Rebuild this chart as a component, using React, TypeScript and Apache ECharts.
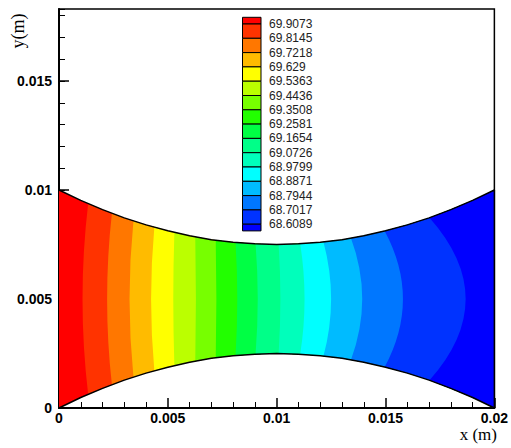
import React, { useEffect, useRef } from 'react';
import * as echarts from 'echarts';

// wall geometry (m)
const wallX = [0, 0.001, 0.002, 0.003, 0.004, 0.005, 0.006, 0.007, 0.008, 0.009, 0.01,
  0.011, 0.012, 0.013, 0.014, 0.015, 0.016, 0.017, 0.018, 0.019, 0.02];
const lowerWall = [0, 0.00048, 0.0009, 0.00128, 0.0016, 0.00187, 0.0021, 0.00228, 0.0024, 0.00247, 0.0025,
  0.00247, 0.0024, 0.00228, 0.0021, 0.00187, 0.0016, 0.00128, 0.0009, 0.00048, 0];
const upperWall = [0.01, 0.00952, 0.0091, 0.00872, 0.0084, 0.00813, 0.0079, 0.00772, 0.0076, 0.00753, 0.0075,
  0.00753, 0.0076, 0.00772, 0.0079, 0.00813, 0.0084, 0.00872, 0.0091, 0.00952, 0.01];

// contour levels (legend) and the band colours between them
const levels = [69.9073, 69.8145, 69.7218, 69.629, 69.5363, 69.4436, 69.3508, 69.2581,
  69.1654, 69.0726, 68.9799, 68.8871, 68.7944, 68.7017, 68.6089];
const bandColors = ['#ff0000', '#ff3300', '#ff7700', '#ffbb00', '#ffff00', '#bbff00', '#77ff00', '#22ff00',
  '#00ff44', '#00ff88', '#00ffbb', '#00ffff', '#00bbff', '#0077ff', '#0033ff', '#0000ff'];

// where each contour line meets the walls and where it crosses the channel centre (m)
const contourWallX = [0.00134, 0.00243, 0.00342, 0.00438, 0.0053, 0.00626, 0.0072, 0.00811,
  0.00903, 0.01009, 0.01108, 0.01215, 0.01341, 0.01496, 0.01702];
const contourMidX = [0.00108, 0.00221, 0.00324, 0.00423, 0.00525, 0.00629, 0.00723, 0.00819,
  0.00913, 0.01017, 0.01128, 0.0125, 0.01393, 0.0158, 0.01868];

const yLabelValues = [0, 0.005, 0.01, 0.015];

const wallAt = (ys: number[], x: number) => {
  for (let k = 1; k < wallX.length; k++) {
    if (x <= wallX[k]) {
      const t = (x - wallX[k - 1]) / (wallX[k] - wallX[k - 1]);
      return ys[k - 1] + t * (ys[k] - ys[k - 1]);
    }
  }
  return ys[ys.length - 1];
};

const tickFont = { color: '#000', fontWeight: 'bold', fontSize: 14, fontFamily: 'Liberation Sans' };

const App: React.FC = () => {
  const chartRef = useRef<HTMLDivElement>(null);

  useEffect(() => {
    document.body.style.margin = '0';
    if (!chartRef.current) return;
    const chart = echarts.init(chartRef.current, null, { renderer: 'svg' });

    // legend: colour boxes with level labels on the box boundaries
    const legLeft = 242.5, legW = 18.5, legTop = 17.3, legFirst = 24, legStep = 14.3;
    const legend: any[] = [];
    bandColors.forEach((c, k) => {
      const top = k === 0 ? legTop : legFirst + legStep * (k - 1);
      const bottom = k === bandColors.length - 1 ? top + (legFirst - legTop) : legFirst + legStep * k;
      legend.push({
        type: 'rect',
        shape: { x: legLeft, y: top, width: legW, height: bottom - top },
        style: { fill: c, stroke: '#000', lineWidth: 1 },
      });
    });
    levels.forEach((v, k) => {
      legend.push({
        type: 'text',
        x: 269,
        y: legFirst + legStep * k,
        style: { text: String(v), fontSize: 12, fontFamily: 'Liberation Sans', fill: '#222', align: 'left', verticalAlign: 'middle' },
      });
    });

    const outline = [
      ...wallX.map((x, k) => [x, lowerWall[k]]),
      ...wallX.map((x, k) => [x, upperWall[k]]).reverse(),
    ];

    const option: any = {
      animation: false,
      grid: { left: 59, right: 14, top: 9, bottom: 40, show: true, borderColor: '#000', borderWidth: 1.5 },
      xAxis: {
        type: 'value',
        min: 0,
        max: 0.02,
        interval: 0.005,
        axisLine: { lineStyle: { color: '#000', width: 2 } },
        axisTick: { inside: true, length: 10, lineStyle: { color: '#000', width: 1.5 } },
        minorTick: { show: true, splitNumber: 5, length: 6, lineStyle: { color: '#000', width: 1 } },
        splitLine: { show: false },
        axisLabel: { ...tickFont, margin: 3 },
      },
      yAxis: [
        {
          type: 'value',
          position: 'left',
          min: 0,
          max: 0.0183,
          interval: 0.001,
          axisLine: { show: true, lineStyle: { color: '#000', width: 2 } },
          axisTick: { show: true, inside: true, length: 6, lineStyle: { color: '#000', width: 1 } },
          axisLabel: { show: false },
          splitLine: { show: false },
        },
        {
          type: 'value',
          position: 'left',
          min: 0,
          max: 0.0183,
          axisLine: { show: false },
          axisTick: { show: true, inside: true, length: 10, customValues: yLabelValues, lineStyle: { color: '#000', width: 1.5 } },
          axisLabel: { ...tickFont, margin: 7, customValues: yLabelValues },
          splitLine: { show: false },
        },
      ],
      series: [
        {
          type: 'custom',
          xAxisIndex: 0,
          yAxisIndex: 0,
          data: bandColors.map((_, i) => [i]),
          renderItem: (params: any, api: any) => {
            const i = api.value(0) as number;
            const pt = (x: number, y: number) => api.coord([x, y]);
            let d = '';
            let xStart: number;
            if (i === 0) {
              xStart = wallX[0];
              const b = pt(xStart, lowerWall[0]);
              const t = pt(xStart, upperWall[0]);
              d = `M${b[0]},${b[1]} L${t[0]},${t[1]}`;
            } else {
              xStart = contourWallX[i - 1];
              const b = pt(xStart, wallAt(lowerWall, xStart));
              const t = pt(xStart, wallAt(upperWall, xStart));
              const xm = contourMidX[i - 1];
              const m = pt(xm, (wallAt(lowerWall, xm) + wallAt(upperWall, xm)) / 2);
              const c = [2 * m[0] - (b[0] + t[0]) / 2, 2 * m[1] - (b[1] + t[1]) / 2];
              d = `M${b[0]},${b[1]} Q${c[0]},${c[1]} ${t[0]},${t[1]}`;
            }
            wallX.forEach((x, k) => {
              if (x > xStart) {
                const p = pt(x, upperWall[k]);
                d += ` L${p[0]},${p[1]}`;
              }
            });
            for (let k = wallX.length - 1; k >= 0; k--) {
              if (wallX[k] > xStart) {
                const p = pt(wallX[k], lowerWall[k]);
                d += ` L${p[0]},${p[1]}`;
              }
            }
            d += ' Z';
            return { type: 'path', shape: { pathData: d }, style: { fill: bandColors[i] } };
          },
          z: 1,
        },
        {
          type: 'line',
          xAxisIndex: 0,
          yAxisIndex: 0,
          data: outline,
          symbol: 'none',
          lineStyle: { color: '#000', width: 1.5 },
          z: 3,
        },
      ],
      graphic: [
        {
          type: 'text',
          x: 497,
          y: 434,
          style: { text: 'x (m)', fontSize: 17, fontFamily: 'Liberation Serif', fill: '#000', align: 'right', verticalAlign: 'middle' },
        },
        {
          type: 'text',
          x: 18,
          y: 31,
          rotation: Math.PI / 2,
          style: { text: 'y(m)', fontSize: 18, fontFamily: 'Liberation Serif', fill: '#000', align: 'center', verticalAlign: 'middle' },
        },
        ...legend,
      ],
    };

    chart.setOption(option);
    return () => chart.dispose();
  }, []);

  return <div ref={chartRef} style={{ width: '511px', height: '448px' }} />;
};

export default App;
